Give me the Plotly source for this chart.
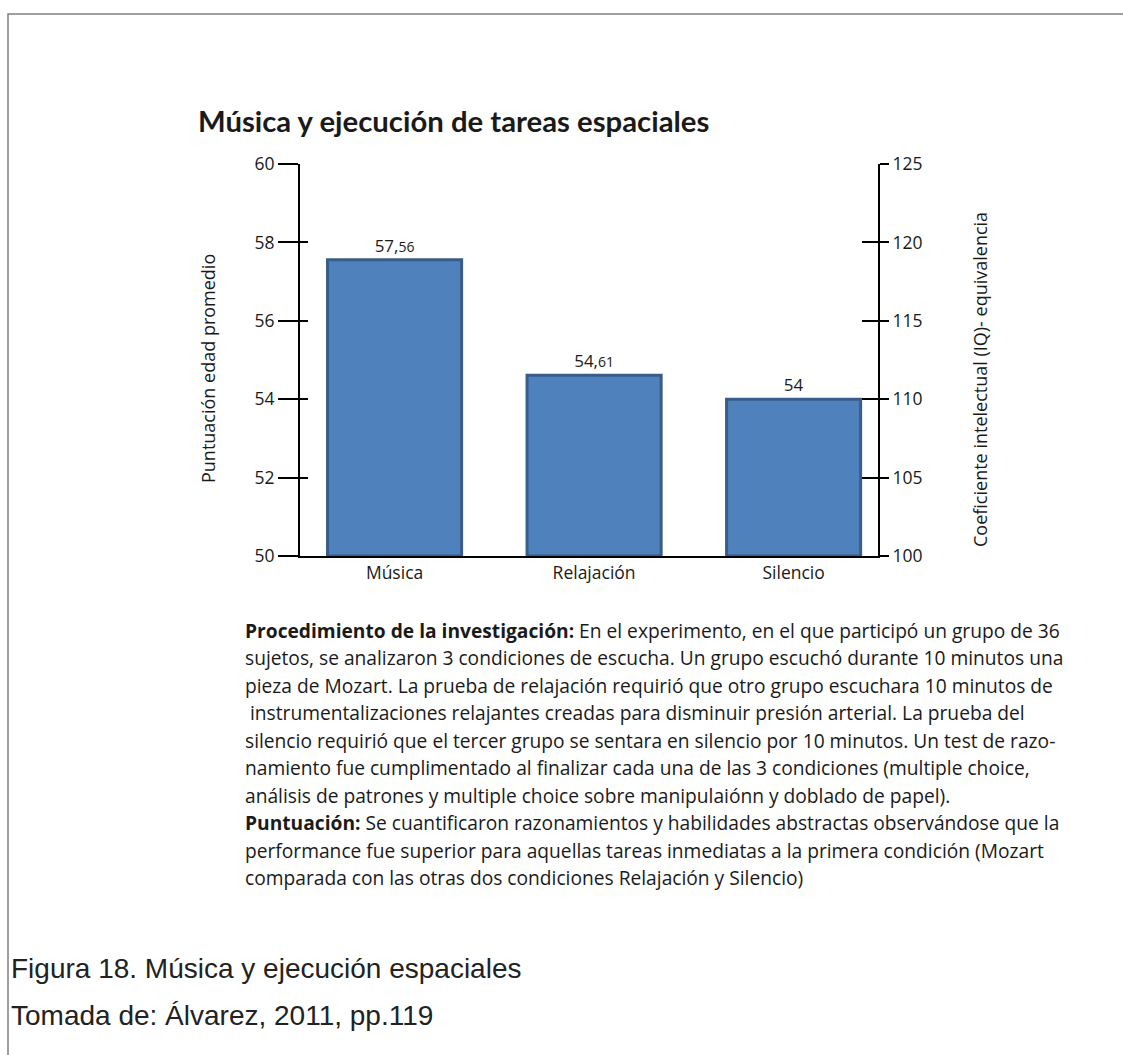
import plotly.graph_objects as go

# Data
categories = ["Música", "Relajación", "Silencio"]
scores = [57.56, 54.61, 54.0]
left_ticks = [50, 52, 54, 56, 58, 60]
right_ticks = [100, 105, 110, 115, 120, 125]

title_text = "Música y ejecución de tareas espaciales"
left_title = "Puntuación edad promedio"
right_title = "Coeficiente intelectual (IQ)- equivalencia"

proc_lines = [
    "<b>Procedimiento de la investigación:</b> En el experimento, en el que participó un grupo de 36",
    "sujetos, se analizaron 3 condiciones de escucha. Un grupo escuchó durante 10 minutos una",
    "pieza de Mozart. La prueba de relajación requirió que otro grupo escuchara 10 minutos de",
    " instrumentalizaciones relajantes creadas para disminuir presión arterial. La prueba del",
    "silencio requirió que el tercer grupo se sentara en silencio por 10 minutos. Un test de razo-",
    "namiento fue cumplimentado al finalizar cada una de las 3 condiciones (multiple choice,",
    "análisis de patrones y multiple choice sobre manipulaiónn y doblado de papel).",
]
score_lines = [
    "<b>Puntuación:</b> Se cuantificaron razonamientos y habilidades abstractas observándose que la",
    "performance fue superior para aquellas tareas inmediatas a la primera condición (Mozart",
    "comparada con las otras dos condiciones Relajación y Silencio)",
]
caption_lines = [
    "Figura 18. Música y ejecución espaciales",
    "Tomada de: Álvarez, 2011, pp.119",
]

W, H = 1123, 1055
ML, MR, MT, MB = 300, 245, 164, 499
PW, PH = W - ML - MR, H - MT - MB
FONT = "'Open Sans', 'Noto Sans', sans-serif"
TITLE_FONT = "Lato, 'Open Sans', sans-serif"
INK = "#1a1a1a"


def px(x):
    # page pixel -> paper x (paper spans the plot area)
    return (x - ML) / PW


def py(y):
    # page pixel -> paper y
    return (H - MB - y) / PH


def value_label(v):
    whole, frac = f"{v:.2f}".split(".")
    if frac == "00":
        return whole
    return f"{whole},<span style='font-size:14px'>{frac}</span>"


fig = go.Figure()
fig.add_trace(go.Bar(
    x=categories,
    y=[s - 50 for s in scores],
    base=50,
    width=0.672,
    marker=dict(color="#4F81BD", line=dict(color="#385D8A", width=3)),
    text=[value_label(s) for s in scores],
    textposition="outside",
    textfont=dict(family=FONT, size=17, color=INK),
    cliponaxis=False,
    showlegend=False,
))

axis_common = dict(showgrid=False, zeroline=False, fixedrange=True)
tick_font = dict(size=17.5, family=FONT, color=INK)

fig.update_layout(
    width=W, height=H,
    margin=dict(l=ML, r=MR, t=MT, b=MB),
    paper_bgcolor="white", plot_bgcolor="white",
    font=dict(family=FONT, color=INK),
    xaxis=dict(
        **axis_common, type="category", range=[-0.474, 2.423],
        showline=True, linecolor="black", linewidth=2,
        ticks="", tickfont=tick_font,
    ),
    yaxis=dict(
        **axis_common, range=[50, 60], tickvals=left_ticks,
        showline=True, linecolor="black", linewidth=2,
        ticks="outside", ticklen=20, tickwidth=1.5, tickcolor="black",
        tickfont=tick_font,
    ),
    # inner half of the crossing tick marks on the left axis
    yaxis3=dict(
        **axis_common, range=[50, 60], tickvals=left_ticks, overlaying="y",
        side="left", showline=False, showticklabels=False,
        ticks="inside", ticklen=8, tickwidth=1.5, tickcolor="black",
    ),
    yaxis2=dict(
        **axis_common, range=[100, 125], tickvals=right_ticks, overlaying="y",
        side="right", showline=True, linecolor="black", linewidth=2,
        ticks="outside", ticklen=9, tickwidth=1.5, tickcolor="black",
        tickfont=tick_font,
    ),
    # inner half of the crossing tick marks on the right axis
    yaxis4=dict(
        **axis_common, range=[100, 125], tickvals=right_ticks, overlaying="y",
        side="right", showline=False, showticklabels=False,
        ticks="inside", ticklen=16, tickwidth=1.5, tickcolor="black",
    ),
)

# placeholder traces so the secondary axes are drawn
for ax in ("y2", "y3", "y4"):
    fig.add_trace(go.Scatter(x=[categories[0]], y=[None], yaxis=ax,
                             showlegend=False, hoverinfo="skip"))

annotations = [
    dict(x=px(196), y=py(120), text=f"<b>{title_text}</b>", xanchor="left",
         yanchor="middle", font=dict(size=29.3, family=TITLE_FONT, color=INK)),
    dict(x=px(208), y=py(369), text=left_title, textangle=-90,
         xanchor="center", yanchor="middle",
         font=dict(size=18, family=FONT, color=INK)),
    dict(x=px(980), y=py(380), text=right_title, textangle=-90,
         xanchor="center", yanchor="middle",
         font=dict(size=18, family=FONT, color=INK)),
]

line_y = 630
for ln in proc_lines + score_lines:
    annotations.append(dict(x=px(243), y=py(line_y), text=ln, xanchor="left",
                            yanchor="middle",
                            font=dict(size=19.2, family=FONT, color=INK)))
    line_y += 27.5

for ln, yy in zip(caption_lines, (968, 1015)):
    annotations.append(dict(x=px(9), y=py(yy), text=ln, xanchor="left",
                            yanchor="middle",
                            font=dict(size=28, family="'Liberation Sans', Arial, sans-serif",
                                      color="#222222")))

for a in annotations:
    a.update(xref="paper", yref="paper", showarrow=False)
fig.update_layout(annotations=annotations)

# page frame
fig.add_shape(type="rect", xref="paper", yref="paper",
              x0=px(8), x1=px(1135), y0=py(1070), y1=py(14),
              line=dict(color="#808080", width=1.5))

fig.write_html("out.html")
